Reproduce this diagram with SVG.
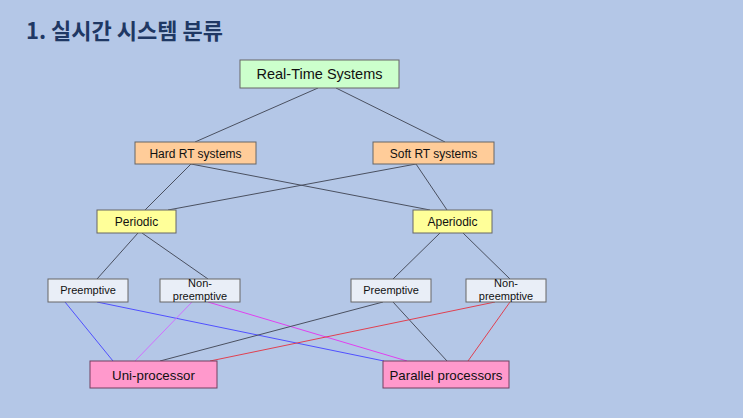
<svg xmlns="http://www.w3.org/2000/svg" width="743" height="418" viewBox="0 0 743 418">
<style>
.t{font-family:"Liberation Sans",Arial,sans-serif;font-size:12px;fill:#111;text-anchor:middle}
.s{font-size:11px}
.l{font-size:14.5px}
.m{font-size:13.3px}
.b{stroke:#666;stroke-width:1}
.c line{stroke-width:1;fill:none}
.k{stroke:#4a5060}
</style>
<rect width="743" height="418" fill="#B4C7E7"/>
<text x="26" y="39" font-family="'Noto Sans CJK KR','Liberation Sans',sans-serif" font-size="22" font-weight="bold" fill="#1F3864">1. 실시간 시스템 분류</text>
<g class="c" id="connectors">
<line class="k" x1="318" y1="88" x2="195" y2="142"/>
<line class="k" x1="336" y1="88" x2="445" y2="142"/>
<line class="k" x1="191" y1="164" x2="145" y2="210"/>
<line class="k" x1="191" y1="164" x2="430" y2="210"/>
<line class="k" x1="416" y1="164" x2="168" y2="210"/>
<line class="k" x1="416" y1="164" x2="447" y2="210"/>
<line class="k" x1="138" y1="233" x2="97" y2="279"/>
<line class="k" x1="142" y1="233" x2="208" y2="279"/>
<line class="k" x1="440" y1="233" x2="393" y2="279"/>
<line class="k" x1="463" y1="233" x2="510" y2="279"/>
<line stroke="#5050FF" x1="65" y1="302" x2="113" y2="361"/>
<line stroke="#5050FF" x1="97" y1="302" x2="384" y2="361"/>
<line stroke="#D070FF" x1="192" y1="302" x2="135" y2="361"/>
<line stroke="#E040F0" x1="208" y1="302" x2="407" y2="361"/>
<line class="k" x1="383" y1="302" x2="160" y2="361"/>
<line class="k" x1="393" y1="302" x2="447" y2="361"/>
<line stroke="#E04050" x1="495" y1="302" x2="210" y2="361"/>
<line stroke="#E04050" x1="510" y1="302" x2="468" y2="361"/>
</g>
<g id="rts"><rect class="b" x="240" y="60" width="159" height="28" fill="#CCFFCC"/><text class="t l" x="319.5" y="79">Real-Time Systems</text></g>
<g id="hard"><rect class="b" x="135" y="142" width="121" height="22" fill="#FFCC99"/><text class="t" x="195.5" y="157.5">Hard RT systems</text></g>
<g id="soft"><rect class="b" x="373" y="142" width="121" height="22" fill="#FFCC99"/><text class="t" x="433.5" y="157.5">Soft RT systems</text></g>
<g id="periodic"><rect class="b" x="97" y="210" width="79" height="23" fill="#FFFF99"/><text class="t" x="136.5" y="226">Periodic</text></g>
<g id="aperiodic"><rect class="b" x="413" y="210" width="79" height="23" fill="#FFFF99"/><text class="t" x="452.5" y="226">Aperiodic</text></g>
<g id="pre1"><rect class="b" x="48" y="279" width="80" height="23" fill="#E9EEF7"/><text class="t s" x="88" y="293.5">Preemptive</text></g>
<g id="non1"><rect class="b" x="160" y="279" width="80" height="23" fill="#E9EEF7"/><text class="t s" x="200" y="287">Non-</text><text class="t s" x="200" y="299.5">preemptive</text></g>
<g id="pre2"><rect class="b" x="351" y="279" width="80" height="23" fill="#E9EEF7"/><text class="t s" x="391" y="293.5">Preemptive</text></g>
<g id="non2"><rect class="b" x="466" y="279" width="80" height="23" fill="#E9EEF7"/><text class="t s" x="506" y="287">Non-</text><text class="t s" x="506" y="299.5">preemptive</text></g>
<g id="uni"><rect x="90" y="361" width="127" height="27" fill="#FF99CC" stroke="#704060"/><text class="t m" x="153.5" y="379.5">Uni-processor</text></g>
<g id="parallel"><rect x="383" y="361" width="126" height="27" fill="#FF99CC" stroke="#704060"/><text class="t m" x="446" y="379.5">Parallel processors</text></g>
</svg>
